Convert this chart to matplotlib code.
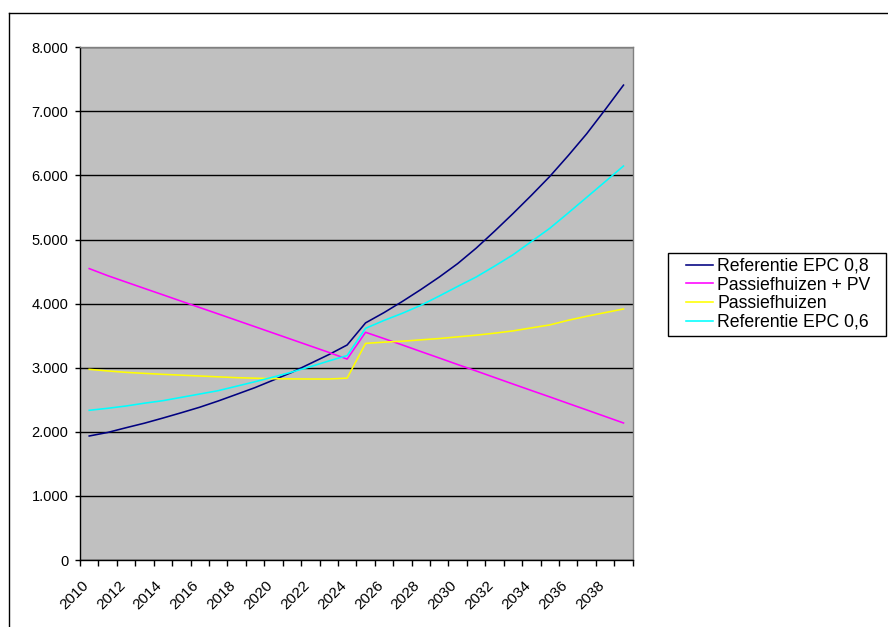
import matplotlib
matplotlib.use("Agg")
import matplotlib.pyplot as plt
from matplotlib.lines import Line2D
from matplotlib.patches import Rectangle
from matplotlib.ticker import FuncFormatter
from matplotlib.transforms import ScaledTranslation

years = list(range(2010, 2040))
tick_labels = [str(y) for y in years[::2]]

ref_epc_08 = [1935, 1990, 2064, 2135, 2215, 2298, 2384, 2481, 2585, 2690,
              2808, 2928, 3066, 3204, 3355, 3700, 3860, 4035, 4220, 4415,
              4625, 4865, 5130, 5405, 5690, 5985, 6310, 6650, 7025, 7410]
passief_pv = [4547, 4437, 4337, 4237, 4138, 4038, 3939, 3840, 3740, 3640,
              3540, 3440, 3340, 3240, 3135, 3553, 3455, 3355, 3253, 3152,
              3050, 2950, 2848, 2746, 2645, 2545, 2443, 2342, 2240, 2138]
passief = [2975, 2950, 2928, 2912, 2897, 2884, 2871, 2858, 2845, 2837,
           2829, 2826, 2824, 2824, 2838, 3380, 3399, 3414, 3435, 3456,
           3482, 3508, 3539, 3575, 3622, 3668, 3741, 3803, 3860, 3917]
ref_epc_06 = [2336, 2367, 2403, 2447, 2486, 2538, 2590, 2642, 2712, 2782,
              2855, 2933, 3016, 3105, 3190, 3615, 3738, 3850, 3974, 4119,
              4269, 4415, 4585, 4762, 4969, 5176, 5415, 5658, 5902, 6148]

series_names = ["Referentie EPC 0,8", "Passiefhuizen + PV", "Passiefhuizen", "Referentie EPC 0,6"]
series_values = [ref_epc_08, passief_pv, passief, ref_epc_06]
series_colors = ["#000080", "#FF00FF", "#FFFF00", "#00FFFF"]

plt.rcParams['font.family'] = ['Liberation Sans', 'DejaVu Sans']

W, H = 888, 627
fig = plt.figure(figsize=(W / 100, H / 100), dpi=100)
left, right, top, bottom = 80, 632.7, 47.3, 560
ax = fig.add_axes([left / W, 1 - bottom / H, (right - left) / W, (bottom - top) / H])
ax.set_facecolor("#C0C0C0")

x = list(range(len(years)))
for name, vals, col in zip(series_names, series_values, series_colors):
    ax.plot(x, vals, color=col, lw=1.15, label=name, zorder=3)

ax.set_xlim(-0.5, len(years) - 0.5)
ax.set_ylim(0, 8000)
ax.set_yticks(range(0, 8001, 1000))
ax.yaxis.set_major_formatter(FuncFormatter(lambda v, p: f"{int(v):,}".replace(",", ".")))
ax.grid(axis='y', color='black', lw=1.0, zorder=1)
ax.set_axisbelow(True)

ax.set_xticks(x[::2])
ax.set_xticklabels(tick_labels, rotation=45, ha='right', va='center', rotation_mode='anchor')
ax.set_xticks([i - 0.5 for i in range(len(years) + 1)], minor=True)
ax.tick_params(axis='x', which='major', length=0, pad=17, labelsize=11)
ax.tick_params(axis='x', which='minor', length=4, width=1, color='black', direction='out')
ax.tick_params(axis='y', length=3.4, width=1, color='black', pad=4.8, labelsize=10.5)
shift = ScaledTranslation(-3 / 100, 0, fig.dpi_scale_trans)
for lab in ax.get_xticklabels():
    lab.set_transform(lab.get_transform() + shift)

for s in ['left', 'bottom']:
    ax.spines[s].set_color('black')
    ax.spines[s].set_linewidth(1)
for s in ['top', 'right']:
    ax.spines[s].set_color('#808080')
    ax.spines[s].set_linewidth(1)

# legend frame drawn manually
fig.add_artist(Rectangle((668 / W, 1 - 336 / H), (886 - 668) / W, (336 - 253) / H,
                         transform=fig.transFigure, facecolor='white', edgecolor='black', lw=1, zorder=2))
leg = fig.legend(loc='upper left', bbox_to_anchor=(686 / W, 1 - 258 / H),
                 bbox_transform=fig.transFigure, borderaxespad=0, fontsize=12.7,
                 frameon=False, handlelength=1.53, handletextpad=0.23, labelspacing=0.09,
                 borderpad=0)
leg.set_zorder(3)

# outer chart border (partially visible)
fig.add_artist(Line2D([9 / W, 9 / W], [0, 1 - 12.7 / H], transform=fig.transFigure, color='black', lw=1))
fig.add_artist(Line2D([9 / W, 1], [1 - 12.7 / H, 1 - 12.7 / H], transform=fig.transFigure, color='black', lw=1))

fig.savefig("out.png", dpi=100, facecolor='white')
